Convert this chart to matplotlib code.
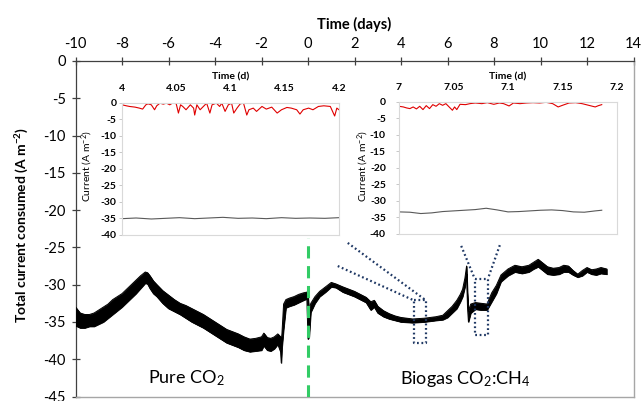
import matplotlib
matplotlib.use("Agg")
import matplotlib.pyplot as plt

plt.rcParams['font.family'] = ['Lato', 'DejaVu Sans']
plt.rcParams['mathtext.fontset'] = 'custom'
plt.rcParams['mathtext.rm'] = 'Lato'
plt.rcParams['mathtext.bf'] = 'Lato:bold'
plt.rcParams['mathtext.it'] = 'Lato:italic'
plt.rcParams['axes.unicode_minus'] = False

# ---- main record: total current consumed (band of the noisy signal) ----
days = [-10.0, -9.8, -9.6, -9.4, -9.2, -9.0, -8.8, -8.6, -8.4, -8.2, -8.0, -7.8, -7.6, -7.4,
        -7.2, -7.0, -6.9, -6.8, -6.65, -6.5, -6.25, -6.0, -5.75, -5.5, -5.25, -5.0, -4.75,
        -4.5, -4.25, -4.0, -3.75, -3.5, -3.25, -3.0, -2.75, -2.5, -2.25, -2.0, -1.9, -1.75,
        -1.6, -1.45, -1.3, -1.18, -1.15, -1.12, -1.05, -0.95, -0.8, -0.6, -0.4, -0.2, -0.05,
        0.0, 0.05, 0.12, 0.3, 0.5, 0.75, 1.0, 1.2, 1.5, 1.75, 2.0, 2.25, 2.5, 2.7, 2.85, 3.0,
        3.25, 3.5, 3.75, 4.0, 4.5, 5.0, 5.5, 5.8, 6.0, 6.2, 6.4, 6.55, 6.65, 6.75, 6.82,
        6.86, 6.9, 7.0, 7.2, 7.45, 7.7, 7.9, 8.1, 8.3, 8.6, 8.9, 9.2, 9.5, 9.7, 9.9, 10.1,
        10.3, 10.55, 10.8, 11.0, 11.2, 11.4, 11.6, 11.8, 12.0, 12.2, 12.4, 12.6, 12.85]
upper = [-33.0, -33.8, -34.0, -34.0, -33.8, -33.4, -33.0, -32.6, -32.0, -31.6, -31.2, -30.6,
         -30.0, -29.4, -28.8, -28.3, -28.4, -28.8, -29.5, -30.0, -30.8, -31.4, -32.0, -32.5,
         -32.8, -33.2, -33.6, -34.0, -34.5, -35.0, -35.5, -36.0, -36.3, -36.6, -37.0, -37.3,
         -37.2, -37.0, -36.5, -37.1, -37.2, -37.0, -36.6, -37.0, -37.5, -36.5, -32.6, -32.0,
         -31.8, -31.6, -31.3, -31.1, -31.0, -31.5, -33.5, -32.5, -31.6, -30.9, -30.3, -29.7,
         -29.9, -30.3, -30.6, -30.9, -31.3, -31.7, -32.3, -32.1, -32.9, -33.5, -33.9, -34.2,
         -34.4, -34.6, -34.5, -34.3, -34.1, -33.5, -32.9, -32.1, -31.3, -30.6, -29.1, -27.5,
         -31.0, -33.5, -32.6, -32.4, -32.5, -32.6, -31.1, -30.1, -28.7, -27.9, -27.4, -27.6,
         -27.4, -27.0, -26.6, -27.1, -27.6, -27.8, -27.7, -27.4, -27.5, -28.1, -28.6, -28.1,
         -27.7, -28.0, -27.9, -27.7, -27.9]
lower = [-35.5, -35.8, -35.8, -35.6, -35.6, -35.3, -35.0, -34.5, -34.0, -33.5, -33.0, -32.4,
         -31.8, -31.2, -30.5, -29.8, -29.9, -30.5, -31.2, -31.6, -32.5, -33.2, -33.6, -34.0,
         -34.5, -35.0, -35.4, -35.8, -36.3, -36.8, -37.3, -37.8, -38.1, -38.4, -38.8, -39.0,
         -38.9, -38.8, -38.2, -38.8, -38.9, -38.6, -38.0, -39.0, -40.5, -38.5, -36.0, -33.1,
         -32.9, -32.7, -32.4, -32.1, -31.9, -37.3, -37.0, -33.7, -32.5, -31.6, -31.0, -30.3,
         -30.4, -31.0, -31.3, -31.6, -32.0, -32.4, -33.4, -33.0, -33.8, -34.3, -34.6, -34.8,
         -35.0, -35.1, -35.0, -34.8, -34.7, -34.4, -33.8, -33.2, -32.3, -31.6, -30.3, -28.6,
         -33.0, -35.0, -33.8, -33.3, -33.4, -33.4, -32.3, -31.2, -29.6, -28.8, -28.3, -28.5,
         -28.3, -27.9, -27.6, -28.1, -28.6, -28.7, -28.6, -28.3, -28.3, -28.7, -29.0, -28.8,
         -28.3, -28.6, -28.7, -28.5, -28.6]

x_ticks = [-10, -8, -6, -4, -2, 0, 2, 4, 6, 8, 10, 12, 14]
y_ticks = [0, -5, -10, -15, -20, -25, -30, -35, -40, -45]

# ---- zoomed windows: cathode (red) and total (grey) current ----
t_left = [4.000, 4.004, 4.007, 4.012, 4.016, 4.019, 4.022, 4.024, 4.027, 4.030, 4.032,
          4.035, 4.038, 4.041, 4.044, 4.047, 4.050, 4.052, 4.054, 4.056, 4.059, 4.063,
          4.066, 4.067, 4.069, 4.072, 4.075, 4.078, 4.081, 4.083, 4.087, 4.090, 4.092,
          4.095, 4.098, 4.101, 4.103, 4.106, 4.109, 4.112, 4.115, 4.117, 4.121, 4.124,
          4.129, 4.133, 4.138, 4.143, 4.147, 4.152, 4.156, 4.161, 4.164, 4.167, 4.172,
          4.176, 4.181, 4.186, 4.192, 4.196, 4.198, 4.200]
red_left = [-0.7, -1.0, -1.2, -1.4, -1.7, -2.0, -0.7, -0.4, -0.7, -2.2, -1.0, -0.2, -0.5,
            -0.2, -0.7, -0.1, -0.4, -3.2, -0.7, -1.2, -2.2, -0.7, -1.7, -3.8, -0.7, -2.2,
            -1.2, -0.2, -3.2, -0.7, -0.2, -1.2, -0.2, -2.7, -0.7, -0.2, -3.2, -1.7, -0.4,
            -0.2, -3.8, -2.2, -1.7, -2.7, -1.2, -2.0, -1.4, -3.2, -2.2, -1.5, -1.7, -2.2,
            -3.5, -2.2, -1.7, -2.2, -1.2, -1.0, -1.2, -4.1, -1.7, -2.2]
t_left_tot = [4.000, 4.013, 4.027, 4.040, 4.053, 4.067, 4.080, 4.093, 4.107, 4.120, 4.133,
              4.147, 4.160, 4.173, 4.187, 4.200]
tot_left = [-35.2, -35.0, -35.3, -35.1, -34.9, -35.2, -35.0, -34.8, -35.1, -35.0, -35.2,
            -34.9, -35.1, -35.0, -35.1, -34.9]

t_right = [7.000, 7.004, 7.007, 7.010, 7.013, 7.016, 7.019, 7.022, 7.025, 7.028, 7.031,
           7.034, 7.037, 7.040, 7.043, 7.046, 7.049, 7.051, 7.053, 7.056, 7.061, 7.065,
           7.070, 7.076, 7.081, 7.087, 7.092, 7.096, 7.101, 7.105, 7.111, 7.117, 7.123,
           7.129, 7.135, 7.141, 7.146, 7.150, 7.156, 7.162, 7.168, 7.174, 7.180, 7.183, 7.186]
red_right = [-1.3, -1.5, -1.8, -2.0, -1.5, -2.1, -1.3, -2.3, -1.1, -2.0, -0.8, -1.3, -0.5,
             -1.0, -0.5, -1.5, -2.5, -1.5, -2.3, -0.7, -0.8, -0.5, -0.3, -0.5, -0.2, -0.7,
             -0.3, -0.5, -1.2, -0.3, -0.5, -0.3, -0.2, -0.3, -0.1, -0.5, -1.5, -1.0, -0.3,
             -0.2, -0.5, -1.0, -1.5, -1.1, -0.8]
t_right_tot = [7.000, 7.010, 7.020, 7.030, 7.040, 7.050, 7.060, 7.070, 7.080, 7.090, 7.100,
               7.110, 7.120, 7.130, 7.140, 7.150, 7.160, 7.170, 7.180, 7.186]
tot_right = [-33.3, -33.4, -33.8, -33.6, -33.2, -33.0, -32.8, -32.6, -32.2, -32.7, -33.3,
             -33.2, -33.0, -32.8, -32.7, -32.9, -33.3, -33.4, -33.0, -32.8]

W, H = 641, 401
fig = plt.figure(figsize=(W / 100, H / 100), dpi=100)


def box(x0, x1, ytop, ybot):
    return [x0 / W, 1 - ybot / H, (x1 - x0) / W, (ybot - ytop) / H]


ax = fig.add_axes(box(75.5, 633.5, 61, 396.5))
ax.set_xlim(-10, 14)
ax.set_ylim(-45, 0)

ax.fill_between(days, lower, upper, color='black', lw=0.6, edgecolor='black', zorder=3)
ax.plot(days, upper, color='black', lw=0.7, zorder=3)
ax.plot(days, lower, color='black', lw=0.7, zorder=3)

# switch of the gas feed
ax.plot([0, 0], [-45, -23.8], color='#33cc66', lw=2.2, dashes=(4, 2.5), zorder=4)

# zoom indicators
dot = dict(color='#1f3864', lw=1.6, linestyle=(0, (0.8, 1.2)), zorder=5)
for x0, x1, y0, y1 in [(4.55, 5.07, -32.1, -37.8), (7.17, 7.74, -29.2, -36.8)]:
    ax.plot([x0, x1, x1, x0, x0], [y0, y0, y1, y1, y0], **dot)
ax.plot([1.71, 5.07], [-24.4, -32.1], **dot)
ax.plot([1.28, 4.55], [-27.5, -32.1], **dot)
ax.plot([6.59, 7.17], [-24.8, -29.2], **dot)
ax.plot([8.25, 7.74], [-24.7, -29.2], **dot)

ax.text(-5.23, -42.6, 'Pure CO$_2$', fontsize=13, ha='center', va='center')
ax.text(6.75, -42.6, 'Biogas CO$_2$:CH$_4$', fontsize=13, ha='center', va='center')

ax.xaxis.tick_top()
ax.xaxis.set_label_position('top')
ax.set_xticks(x_ticks)
ax.set_xticklabels([str(v) for v in x_ticks])
ax.set_yticks(y_ticks)
ax.set_yticklabels([str(v) for v in y_ticks])
ax.tick_params(axis='x', direction='inout', length=6, width=0.9, color='#404040',
               labelsize=10.5, pad=4, top=True, bottom=False)
ax.tick_params(axis='y', direction='inout', length=6, width=0.9, color='#404040',
               labelsize=10.5, pad=4, right=False)
ax.set_xlabel('Time (days)', fontsize=10.5, fontweight='bold', labelpad=6)
for s in ['top', 'left']:
    ax.spines[s].set_color('#404040')
    ax.spines[s].set_linewidth(0.9)
for s in ['right', 'bottom']:
    ax.spines[s].set_color('#a6a6a6')
    ax.spines[s].set_linewidth(1.0)

fig.text(22 / W, 1 - 225 / H, r'Total current consumed (A m$^{\mathbf{-2}}$)',
         rotation=90, ha='center', va='center', fontsize=10, fontweight='bold')


def inset(rect, xlim, xt, t_red, v_red, t_tot, v_tot, ypad, label_x):
    a = fig.add_axes(rect)
    a.set_facecolor('white')
    a.plot(t_red, v_red, color='#e00000', lw=0.8)
    a.plot(t_tot, v_tot, color='#595959', lw=0.8)
    a.set_xlim(*xlim)
    a.set_ylim(-40, 0)
    a.xaxis.tick_top()
    a.xaxis.set_label_position('top')
    a.set_xticks(xt)
    a.set_xticklabels([f'{v:g}' for v in xt], fontweight='bold')
    yt = [0, -5, -10, -15, -20, -25, -30, -35, -40]
    a.set_yticks(yt)
    a.set_yticklabels([str(v) for v in yt], fontweight='bold')
    a.tick_params(axis='x', length=0, labelsize=7.5, pad=7)
    a.tick_params(axis='y', length=2.5, width=0.6, color='#bfbfbf', labelsize=7.5, pad=ypad)
    a.set_xlabel('Time (d)', fontsize=7.5, fontweight='bold', labelpad=3)
    for s in a.spines.values():
        s.set_color('#d9d9d9')
        s.set_linewidth(0.8)
    fig.text(label_x / W, 1 - 166 / H, r'Current (A m$^{-2}$)', rotation=90,
             ha='center', va='center', fontsize=7.5)
    return a


inset(box(122, 339, 102.5, 234.5), (4.0, 4.2), [4.0, 4.05, 4.1, 4.15, 4.2],
      t_left, red_left, t_left_tot, tot_left, 1.5, 87)
inset(box(399, 617, 102.0, 234.0), (7.0, 7.2), [7.0, 7.05, 7.1, 7.15, 7.2],
      t_right, red_right, t_right_tot, tot_right, 7.0, 363)

fig.savefig('out.png', dpi=100)
